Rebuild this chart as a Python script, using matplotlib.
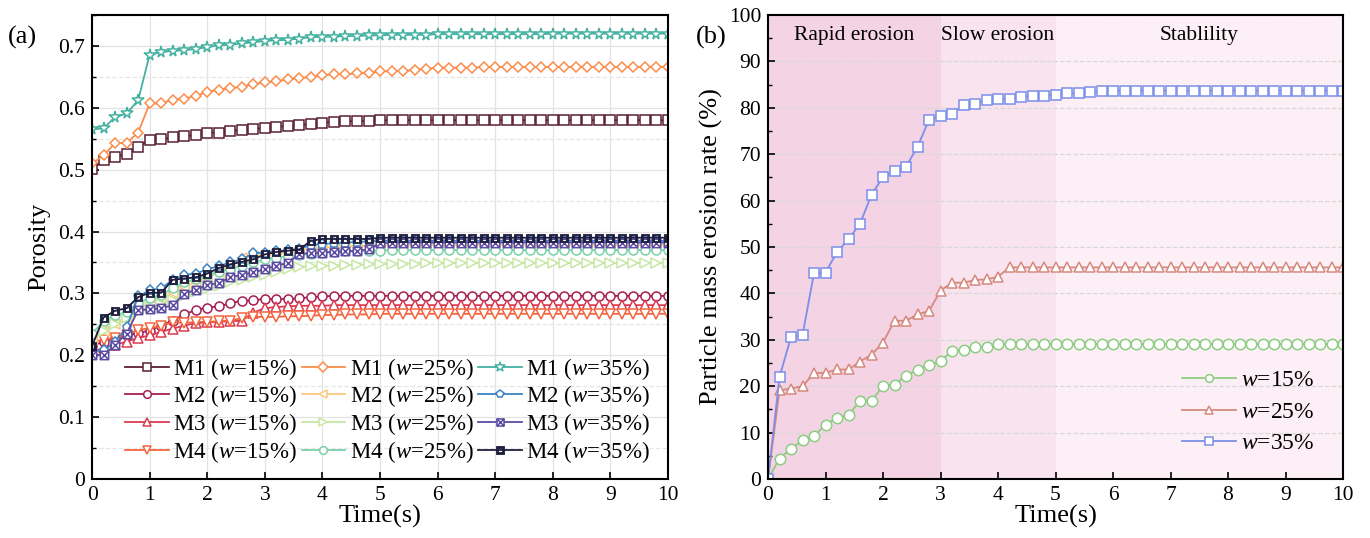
import numpy as np
import matplotlib
matplotlib.use("Agg")
import matplotlib.pyplot as plt
from matplotlib.path import Path
from matplotlib.ticker import MultipleLocator

plt.rcParams['font.family'] = ['Liberation Serif', 'DejaVu Serif']
plt.rcParams['mathtext.fontset'] = 'custom'
plt.rcParams['mathtext.rm'] = 'Liberation Serif'
plt.rcParams['mathtext.it'] = 'Liberation Serif:italic'

# ---------------- data ----------------
time = [0.0, 0.2, 0.4, 0.6, 0.8, 1.0, 1.2, 1.4, 1.6, 1.8,
        2.0, 2.2, 2.4, 2.6, 2.8, 3.0, 3.2, 3.4, 3.6, 3.8,
        4.0, 4.2, 4.4, 4.6, 4.8, 5.0, 5.2, 5.4, 5.6, 5.8,
        6.0, 6.2, 6.4, 6.6, 6.8, 7.0, 7.2, 7.4, 7.6, 7.8,
        8.0, 8.2, 8.4, 8.6, 8.8, 9.0, 9.2, 9.4, 9.6, 9.8, 10.0]

# porosity, panel (a)
m1_w15 = [0.501, 0.516, 0.521, 0.525, 0.537, 0.548, 0.549, 0.552, 0.554, 0.556,
          0.560, 0.560, 0.563, 0.564, 0.566, 0.567, 0.569, 0.571, 0.572, 0.574,
          0.576, 0.577, 0.578, 0.579, 0.579, 0.580, 0.580, 0.580, 0.580, 0.580,
          0.580, 0.580, 0.580, 0.580, 0.580, 0.580, 0.580, 0.580, 0.580, 0.580,
          0.580, 0.580, 0.580, 0.580, 0.580, 0.580, 0.580, 0.580, 0.580, 0.580, 0.580]
m2_w15 = [0.215, 0.222, 0.228, 0.232, 0.236, 0.240, 0.248, 0.256, 0.266, 0.273,
          0.277, 0.279, 0.284, 0.288, 0.289, 0.291, 0.291, 0.291, 0.292, 0.294,
          0.295, 0.296, 0.296, 0.296, 0.296, 0.296, 0.296, 0.296, 0.296, 0.296,
          0.296, 0.296, 0.296, 0.296, 0.296, 0.296, 0.296, 0.296, 0.296, 0.296,
          0.296, 0.296, 0.296, 0.296, 0.296, 0.296, 0.296, 0.296, 0.296, 0.296, 0.296]
m3_w15 = [0.205, 0.212, 0.217, 0.222, 0.228, 0.232, 0.238, 0.243, 0.248, 0.252,
          0.253, 0.254, 0.255, 0.256, 0.269, 0.276, 0.278, 0.279, 0.280, 0.280,
          0.280, 0.281, 0.281, 0.281, 0.281, 0.281, 0.281, 0.281, 0.281, 0.281,
          0.281, 0.281, 0.281, 0.281, 0.281, 0.281, 0.281, 0.281, 0.281, 0.281,
          0.281, 0.281, 0.281, 0.281, 0.281, 0.281, 0.281, 0.281, 0.281, 0.281, 0.281]
m4_w15 = [0.222, 0.225, 0.228, 0.233, 0.241, 0.244, 0.247, 0.254, 0.252, 0.254,
          0.254, 0.255, 0.256, 0.260, 0.262, 0.262, 0.262, 0.263, 0.263, 0.264,
          0.265, 0.265, 0.266, 0.266, 0.266, 0.267, 0.267, 0.267, 0.267, 0.267,
          0.267, 0.267, 0.267, 0.267, 0.267, 0.267, 0.267, 0.267, 0.267, 0.267,
          0.267, 0.267, 0.267, 0.267, 0.267, 0.267, 0.267, 0.267, 0.267, 0.267, 0.267]
m1_w25 = [0.510, 0.523, 0.543, 0.543, 0.560, 0.607, 0.607, 0.613, 0.615, 0.619,
          0.626, 0.629, 0.632, 0.634, 0.638, 0.641, 0.643, 0.646, 0.648, 0.650,
          0.653, 0.654, 0.654, 0.656, 0.656, 0.659, 0.659, 0.660, 0.661, 0.663,
          0.665, 0.665, 0.665, 0.665, 0.666, 0.666, 0.666, 0.666, 0.666, 0.666,
          0.666, 0.666, 0.666, 0.666, 0.666, 0.666, 0.666, 0.666, 0.666, 0.666, 0.666]
m2_w25 = [0.225, 0.240, 0.250, 0.262, 0.275, 0.285, 0.292, 0.300, 0.310, 0.318,
          0.325, 0.335, 0.342, 0.357, 0.360, 0.362, 0.364, 0.366, 0.370, 0.372,
          0.374, 0.375, 0.376, 0.377, 0.377, 0.378, 0.378, 0.378, 0.378, 0.378,
          0.378, 0.378, 0.378, 0.378, 0.378, 0.378, 0.378, 0.378, 0.378, 0.378,
          0.378, 0.378, 0.378, 0.378, 0.378, 0.378, 0.378, 0.378, 0.378, 0.378, 0.378]
m3_w25 = [0.230, 0.240, 0.250, 0.260, 0.270, 0.278, 0.283, 0.290, 0.296, 0.302,
          0.307, 0.312, 0.318, 0.322, 0.326, 0.330, 0.335, 0.339, 0.343, 0.344,
          0.345, 0.345, 0.346, 0.346, 0.347, 0.347, 0.348, 0.348, 0.348, 0.349,
          0.349, 0.349, 0.349, 0.349, 0.349, 0.349, 0.349, 0.349, 0.349, 0.349,
          0.349, 0.349, 0.349, 0.349, 0.349, 0.349, 0.349, 0.349, 0.349, 0.349, 0.349]
m4_w25 = [0.235, 0.255, 0.265, 0.270, 0.285, 0.292, 0.298, 0.308, 0.318, 0.323,
          0.330, 0.335, 0.340, 0.345, 0.350, 0.355, 0.358, 0.360, 0.362, 0.364,
          0.366, 0.367, 0.368, 0.368, 0.369, 0.369, 0.370, 0.370, 0.370, 0.370,
          0.370, 0.370, 0.370, 0.370, 0.370, 0.370, 0.370, 0.370, 0.370, 0.370,
          0.370, 0.370, 0.370, 0.370, 0.370, 0.370, 0.370, 0.370, 0.370, 0.370, 0.370]
m1_w35 = [0.565, 0.567, 0.585, 0.591, 0.612, 0.686, 0.690, 0.692, 0.693, 0.695,
          0.698, 0.701, 0.702, 0.704, 0.706, 0.708, 0.709, 0.710, 0.712, 0.714,
          0.715, 0.715, 0.716, 0.716, 0.717, 0.717, 0.718, 0.718, 0.718, 0.718,
          0.719, 0.719, 0.719, 0.719, 0.719, 0.719, 0.719, 0.719, 0.719, 0.719,
          0.720, 0.720, 0.720, 0.720, 0.720, 0.720, 0.720, 0.720, 0.720, 0.720, 0.720]
m2_w35 = [0.206, 0.208, 0.222, 0.245, 0.295, 0.305, 0.308, 0.322, 0.330, 0.332,
          0.339, 0.344, 0.350, 0.355, 0.365, 0.366, 0.368, 0.370, 0.372, 0.378,
          0.380, 0.381, 0.382, 0.383, 0.384, 0.385, 0.385, 0.385, 0.385, 0.385,
          0.385, 0.385, 0.385, 0.385, 0.385, 0.385, 0.385, 0.385, 0.385, 0.385,
          0.385, 0.385, 0.385, 0.385, 0.385, 0.385, 0.385, 0.385, 0.385, 0.385, 0.385]
m3_w35 = [0.200, 0.200, 0.217, 0.235, 0.273, 0.274, 0.276, 0.281, 0.299, 0.306,
          0.313, 0.317, 0.326, 0.330, 0.334, 0.339, 0.345, 0.349, 0.364, 0.365,
          0.366, 0.367, 0.368, 0.369, 0.371, 0.381, 0.382, 0.382, 0.382, 0.382,
          0.382, 0.382, 0.382, 0.382, 0.382, 0.382, 0.382, 0.382, 0.382, 0.382,
          0.382, 0.382, 0.382, 0.382, 0.382, 0.382, 0.382, 0.382, 0.382, 0.382, 0.382]
m4_w35 = [0.215, 0.261, 0.272, 0.276, 0.294, 0.301, 0.301, 0.322, 0.324, 0.326,
          0.332, 0.341, 0.347, 0.351, 0.355, 0.363, 0.367, 0.369, 0.371, 0.385,
          0.388, 0.388, 0.388, 0.388, 0.388, 0.390, 0.390, 0.390, 0.390, 0.390,
          0.390, 0.390, 0.390, 0.390, 0.390, 0.390, 0.390, 0.390, 0.390, 0.390,
          0.390, 0.390, 0.390, 0.390, 0.390, 0.390, 0.390, 0.390, 0.390, 0.390, 0.390]

# particle mass erosion rate (%), panel (b)
erosion_w15 = [0.0, 4.4, 6.5, 8.3, 9.3, 11.7, 13.2, 13.7, 16.9, 16.9,
               20.0, 20.3, 22.3, 23.5, 24.5, 25.4, 27.6, 27.9, 28.4, 28.5,
               29.0, 29.1, 29.1, 29.1, 29.1, 29.1, 29.1, 29.1, 29.1, 29.1,
               29.1, 29.1, 29.1, 29.1, 29.1, 29.1, 29.1, 29.1, 29.1, 29.1,
               29.1, 29.1, 29.1, 29.1, 29.1, 29.1, 29.1, 29.1, 29.1, 29.1, 29.1]
erosion_w25 = [0.0, 19.1, 19.5, 20.0, 22.8, 22.9, 23.6, 23.6, 25.3, 26.8,
               29.4, 34.1, 34.1, 35.5, 36.2, 40.6, 42.3, 42.3, 42.9, 43.0,
               43.6, 45.6, 45.6, 45.6, 45.6, 45.6, 45.6, 45.6, 45.6, 45.6,
               45.6, 45.6, 45.6, 45.6, 45.6, 45.6, 45.6, 45.6, 45.6, 45.6,
               45.6, 45.6, 45.6, 45.6, 45.6, 45.6, 45.6, 45.6, 45.6, 45.6, 45.6]
erosion_w35 = [0.0, 22.0, 30.6, 31.0, 44.4, 44.5, 48.9, 51.7, 55.0, 61.3,
               65.1, 66.3, 67.3, 71.6, 77.4, 78.3, 78.7, 80.6, 80.8, 81.7,
               81.8, 82.0, 82.3, 82.6, 82.6, 82.8, 83.1, 83.2, 83.5, 83.6,
               83.6, 83.7, 83.7, 83.7, 83.7, 83.7, 83.7, 83.7, 83.7, 83.7,
               83.7, 83.7, 83.7, 83.7, 83.7, 83.7, 83.7, 83.7, 83.7, 83.7, 83.7]

stage_edges = [0, 3, 5, 10]
stage_names = ['Rapid erosion', 'Slow erosion', 'Stablility']


# ---------------- custom markers ----------------
def crossed_square():
    verts = [(-1, -1), (1, -1), (1, 1), (-1, 1), (-1, -1),
             (-1, -1), (1, 1), (-1, 1), (1, -1)]
    codes = [Path.MOVETO, Path.LINETO, Path.LINETO, Path.LINETO, Path.CLOSEPOLY,
             Path.MOVETO, Path.LINETO, Path.MOVETO, Path.LINETO]
    return Path(verts, codes)


def slotted_square():
    # filled square with a hollow vertical slot in the middle
    outer = [(-1, -1), (1, -1), (1, 1), (-1, 1), (-1, -1)]
    inner = [(-0.45, -0.7), (-0.45, 0.7), (0.45, 0.7), (0.45, -0.7), (-0.45, -0.7)]
    verts = outer + inner
    codes = ([Path.MOVETO] + [Path.LINETO] * 3 + [Path.CLOSEPOLY]) * 2
    return Path(verts, codes)


fig = plt.figure(figsize=(13.7, 5.38), dpi=100)
ax1 = fig.add_axes([0.0672, 0.1097, 0.4204, 0.8624])
ax2 = fig.add_axes([0.5606, 0.1097, 0.4197, 0.8624])

# ---------------- panel (a) ----------------
series_a = [
    (m1_w15, 'M1 ($\\mathit{w}$=15%)', '#5a1f36', 's'),
    (m2_w15, 'M2 ($\\mathit{w}$=15%)', '#a51f52', 'o'),
    (m3_w15, 'M3 ($\\mathit{w}$=15%)', '#db3b50', '^'),
    (m4_w15, 'M4 ($\\mathit{w}$=15%)', '#f4653f', 'v'),
    (m1_w25, 'M1 ($\\mathit{w}$=25%)', '#fb8d4c', 'D'),
    (m2_w25, 'M2 ($\\mathit{w}$=25%)', '#fdc97f', '<'),
    (m3_w25, 'M3 ($\\mathit{w}$=25%)', '#c6e7a4', '>'),
    (m4_w25, 'M4 ($\\mathit{w}$=25%)', '#7ad1a9', 'o'),
    (m1_w35, 'M1 ($\\mathit{w}$=35%)', '#44b1a1', '*'),
    (m2_w35, 'M2 ($\\mathit{w}$=35%)', '#3d84c4', 'p'),
    (m3_w35, 'M3 ($\\mathit{w}$=35%)', '#5b4ba3', crossed_square()),
    (m4_w35, 'M4 ($\\mathit{w}$=35%)', '#1f1d3d', slotted_square()),
]

for i, (vals, label, color, marker) in enumerate(series_a):
    ms = 6.5
    mew = 1.1
    if marker == 'D':
        ms = 5.5
    elif marker == '*':
        ms = 8.5
    elif isinstance(marker, Path):
        ms = 6.0
    face = 'white'
    if i == 11:
        face = color
        mew = 0.6
    ax1.plot(time, vals, color=color, lw=1.3, marker=marker, ms=ms,
             mfc=face, mec=color, mew=mew, label=label, zorder=3 + i * 0.01)

ax1.set_xlim(0, 10)
ax1.set_ylim(0, 0.75)
ax1.xaxis.set_major_locator(MultipleLocator(1))
ax1.yaxis.set_minor_locator(MultipleLocator(0.05))
ax1.set_yticks([0, 0.1, 0.2, 0.3, 0.4, 0.5, 0.6, 0.7])
ax1.set_yticklabels(['0', '0.1', '0.2', '0.3', '0.4', '0.5', '0.6', '0.7'])
ax1.grid(which='major', color='#e3e3e3', lw=0.9, zorder=0)
ax1.yaxis.grid(which='minor', color='#e6e6e6', lw=0.9, ls='--', zorder=0)
ax1.set_axisbelow(True)
ax1.set_xlabel('Time(s)', fontsize=19, labelpad=0)
ax1.set_ylabel('Porosity', fontsize=19, labelpad=6)

ax1.legend(loc='center', bbox_to_anchor=(0.513, 0.148), ncol=3,
           frameon=False, fontsize=16.5, handlelength=1.9, markerscale=0.85,
           handletextpad=0.2, columnspacing=0.2, labelspacing=0.08,
           borderpad=0.0)

# ---------------- panel (b) ----------------
stage_colors = ['#f4d4e4', '#f8e3ee', '#fcf0f6']
for k in range(3):
    ax2.axvspan(stage_edges[k], stage_edges[k + 1], color=stage_colors[k],
                lw=0, zorder=0)
    ax2.text((stage_edges[k] + stage_edges[k + 1]) / 2, 95.5, stage_names[k],
             ha='center', va='center', fontsize=15.5, zorder=5)

series_b = [
    (erosion_w15, '$\\mathit{w}$=15%', '#8dcc82', 'o'),
    (erosion_w25, '$\\mathit{w}$=25%', '#d6897e', '^'),
    (erosion_w35, '$\\mathit{w}$=35%', '#7c8ee8', 's'),
]
for vals, label, color, marker in series_b:
    ax2.plot(time, vals, color=color, lw=1.3, marker=marker, ms=7.5,
             mfc='white', mec=color, mew=1.1, label=label, zorder=3)

ax2.set_xlim(0, 10)
ax2.set_ylim(0, 100)
ax2.xaxis.set_major_locator(MultipleLocator(1))
ax2.yaxis.set_major_locator(MultipleLocator(10))
ax2.yaxis.set_minor_locator(MultipleLocator(5))
ax2.yaxis.grid(which='major', color='#d8d8d8', lw=0.9, ls='--')
ax2.set_axisbelow(False)
ax2.set_xlabel('Time(s)', fontsize=19, labelpad=0)
ax2.set_ylabel('Particle mass erosion rate (%)', fontsize=19, labelpad=4)
ax2.legend(loc='center', bbox_to_anchor=(0.835, 0.144), frameon=False,
           fontsize=17, handlelength=2.3, handletextpad=0.2, markerscale=0.75,
           labelspacing=0.42, borderpad=0.0)

for ax in (ax1, ax2):
    ax.tick_params(which='both', direction='in', labelsize=15.5)
    ax.tick_params(which='major', length=5, width=1.2, pad=5)
    ax.tick_params(which='minor', length=3, width=1.0)
    for sp in ax.spines.values():
        sp.set_linewidth(1.5)
        sp.set_zorder(6)

fig.text(0.006, 0.93, '(a)', fontsize=19, ha='left', va='center')
fig.text(0.508, 0.93, '(b)', fontsize=19, ha='left', va='center')

fig.savefig('out.png', dpi=100)
